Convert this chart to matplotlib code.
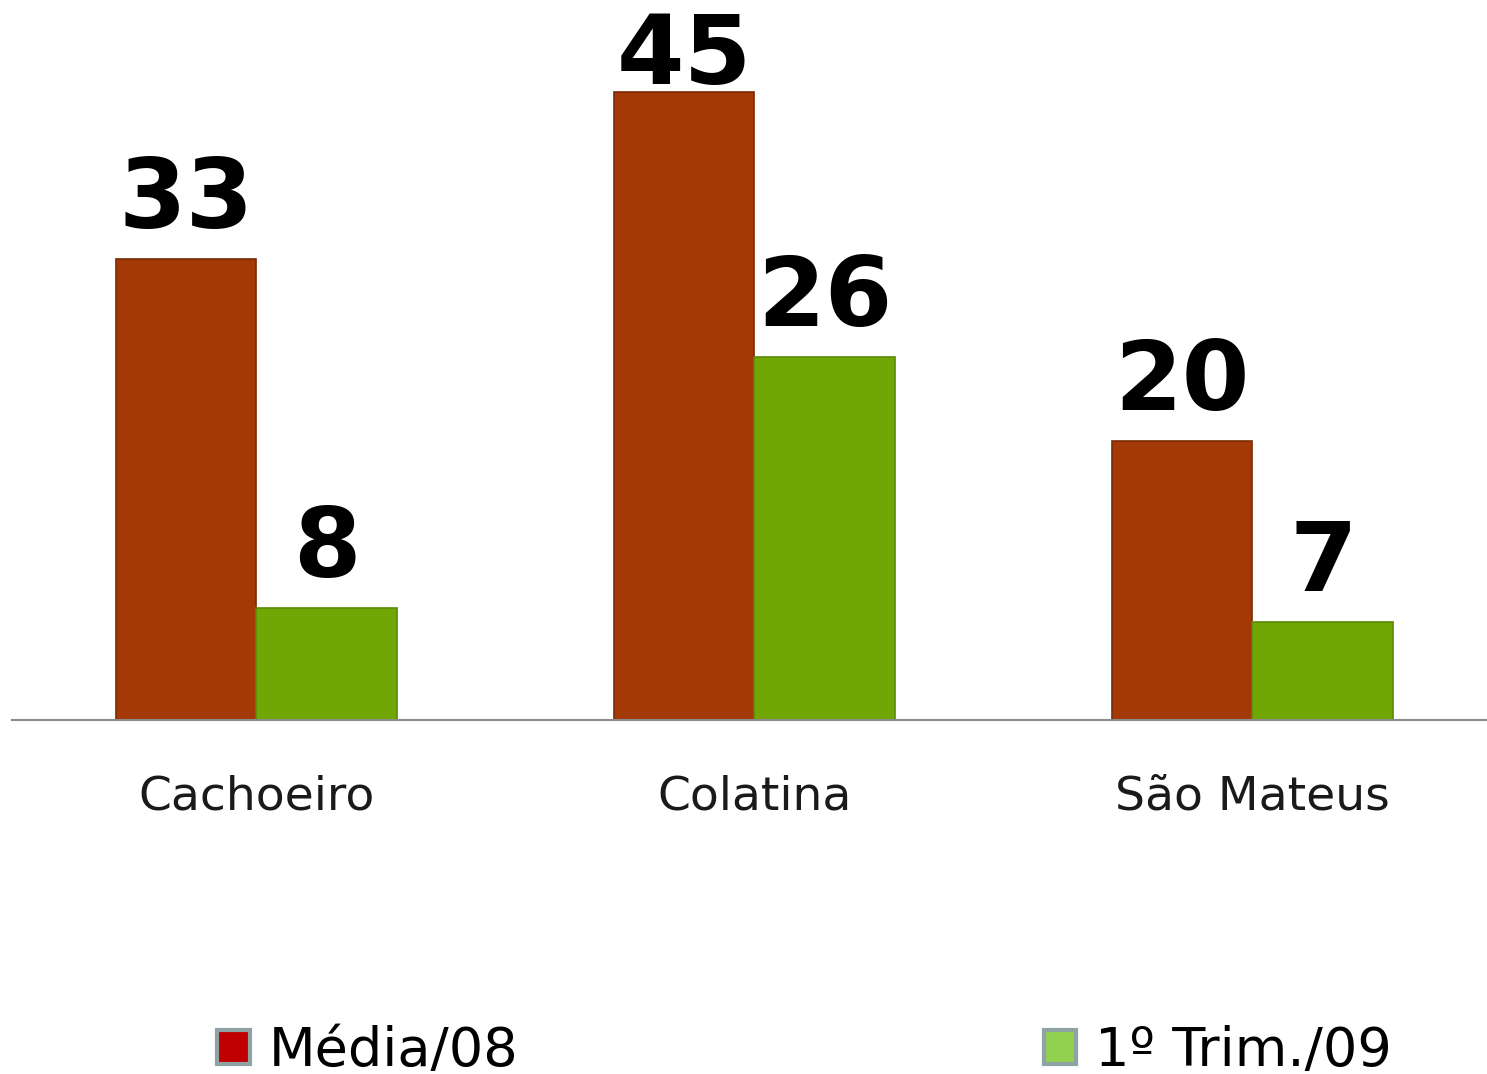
import numpy as np
import matplotlib.pyplot as plt
from matplotlib.patches import Patch

cidades = ['Cachoeiro', 'Colatina', 'São Mateus']
media_08 = [33, 45, 20]
trim_09 = [8, 26, 7]
series = ['Média/08', '1º Trim./09']

cor_media = '#A33906'
cor_trim = '#70A705'

fig = plt.figure(figsize=(14.87, 10.74), dpi=100)
ax = fig.add_axes([0, 0.3296, 1, 0.6704])

x = np.arange(len(cidades))
w = 0.283
b1 = ax.bar(x - w / 2, media_08, w, color=cor_media, edgecolor='#7a2a04', linewidth=1.2)
b2 = ax.bar(x + w / 2, trim_09, w, color=cor_trim, edgecolor='#5a8a04', linewidth=1.2)

# rótulos acima das barras (o maior fica preso no topo do gráfico)
for bars in (b1, b2):
    for r in bars:
        y = min(r.get_height() + 0.8, 44.15)
        ax.text(r.get_x() + r.get_width() / 2, y, str(int(r.get_height())),
                ha='center', va='bottom', fontsize=70, fontweight='bold', color='black')

ax.set_xlim(-0.515, 2.471)
ax.set_ylim(0, 51.58)
for s in ['top', 'right', 'left']:
    ax.spines[s].set_visible(False)
ax.spines['bottom'].set_color('#8c8c8c')
ax.spines['bottom'].set_linewidth(1.5)
ax.spines['bottom'].set_bounds(-0.491, 2.471)
ax.set_yticks([])
ax.set_xticks(x)
ax.set_xticklabels(cidades, fontsize=34, color='#1a1a1a')
ax.tick_params(axis='x', length=0, pad=39)

handles = [Patch(facecolor='#C00000', edgecolor='#8FA3A4', linewidth=3),
           Patch(facecolor='#92D050', edgecolor='#8FA3A4', linewidth=3)]
fig.legend(handles, series, loc='center', bbox_to_anchor=(0.541, 0.0212), ncol=2,
           frameon=False, fontsize=39, handlelength=0.6, handleheight=0.6,
           handletextpad=0.35, columnspacing=9.7)

fig.savefig('out.png', dpi=100)
